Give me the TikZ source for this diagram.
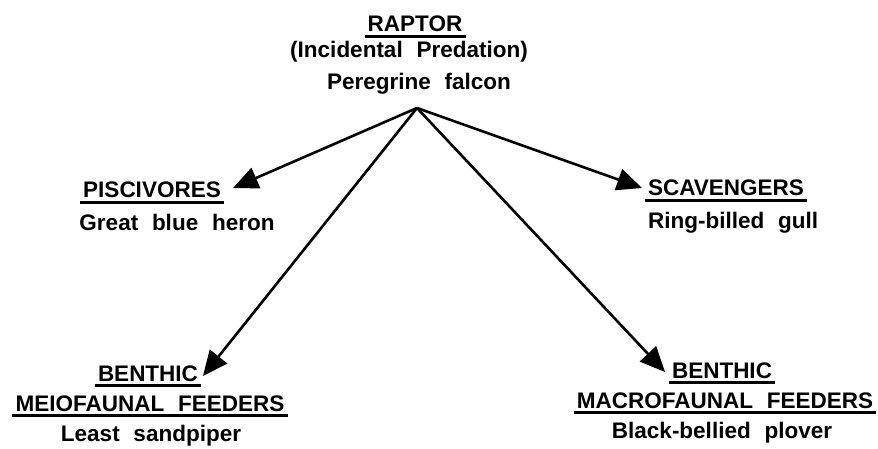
\documentclass[tikz,border=0pt]{standalone}
\usepackage{fontspec}
\setmainfont{Liberation Sans}[WordSpace=2.2]
\usetikzlibrary{arrows.meta}
\begin{document}
\begin{tikzpicture}[x=1pt,y=-1pt,
  lbl/.style={font=\fontsize{22.5}{26}\selectfont\bfseries, inner sep=0pt, anchor=base},
  hd/.style={lbl},
  ul/.style={line width=2.4pt},
  feed/.style={line width=2.6pt, -{Triangle[length=25pt,width=22pt]}}]
\useasboundingbox (0,0) rectangle (878,449);

% top level: the raptor
\node[hd]  (raptor) at (415,32) {RAPTOR};
\node[lbl] (incid)  at (409,58) {(Incidental Predation)};
\node[lbl] (pere)   at (419,90) {Peregrine falcon};
\coordinate (apex) at (417,108);

% piscivores
\node[hd]  (pisc)  at (152,198) {PISCIVORES};
\node[lbl] (heron) at (177,230) {Great blue\ heron};
\coordinate (piscTip) at (233,188);

% scavengers
\node[hd]  (scav) at (726,196) {SCAVENGERS};
\node[lbl] (gull) at (733,229) {Ring-billed gull};
\coordinate (scavTip) at (642,188);

% benthic meiofaunal feeders
\node[hd]  (benA) at (148,381) {BENTHIC};
\node[hd]  (meio) at (150,411) {MEIOFAUNAL FEEDERS};
\node[lbl] (sand) at (151,441) {Least sandpiper};
\coordinate (benATip) at (203,376);

% benthic macrofaunal feeders
\node[hd]  (benB)  at (722,378) {BENTHIC};
\node[hd]  (macro) at (725,408) {MACROFAUNAL FEEDERS};
\node[lbl] (plov)  at (722,438) {Black-bellied plover};
\coordinate (benBTip) at (665,372);

% underlines of the group headings
\foreach \n in {raptor,pisc,scav,benA,meio,benB,macro}
  \draw[ul] ([xshift=-3pt,yshift=-4.5pt]\n.base west) -- ([xshift=3pt,yshift=-4.5pt]\n.base east);

% feeding links
\draw[feed] (apex) -- (piscTip);
\draw[feed] (apex) -- (scavTip);
\draw[feed] (apex) -- (benATip);
\draw[feed] (apex) -- (benBTip);
\end{tikzpicture}
\end{document}
